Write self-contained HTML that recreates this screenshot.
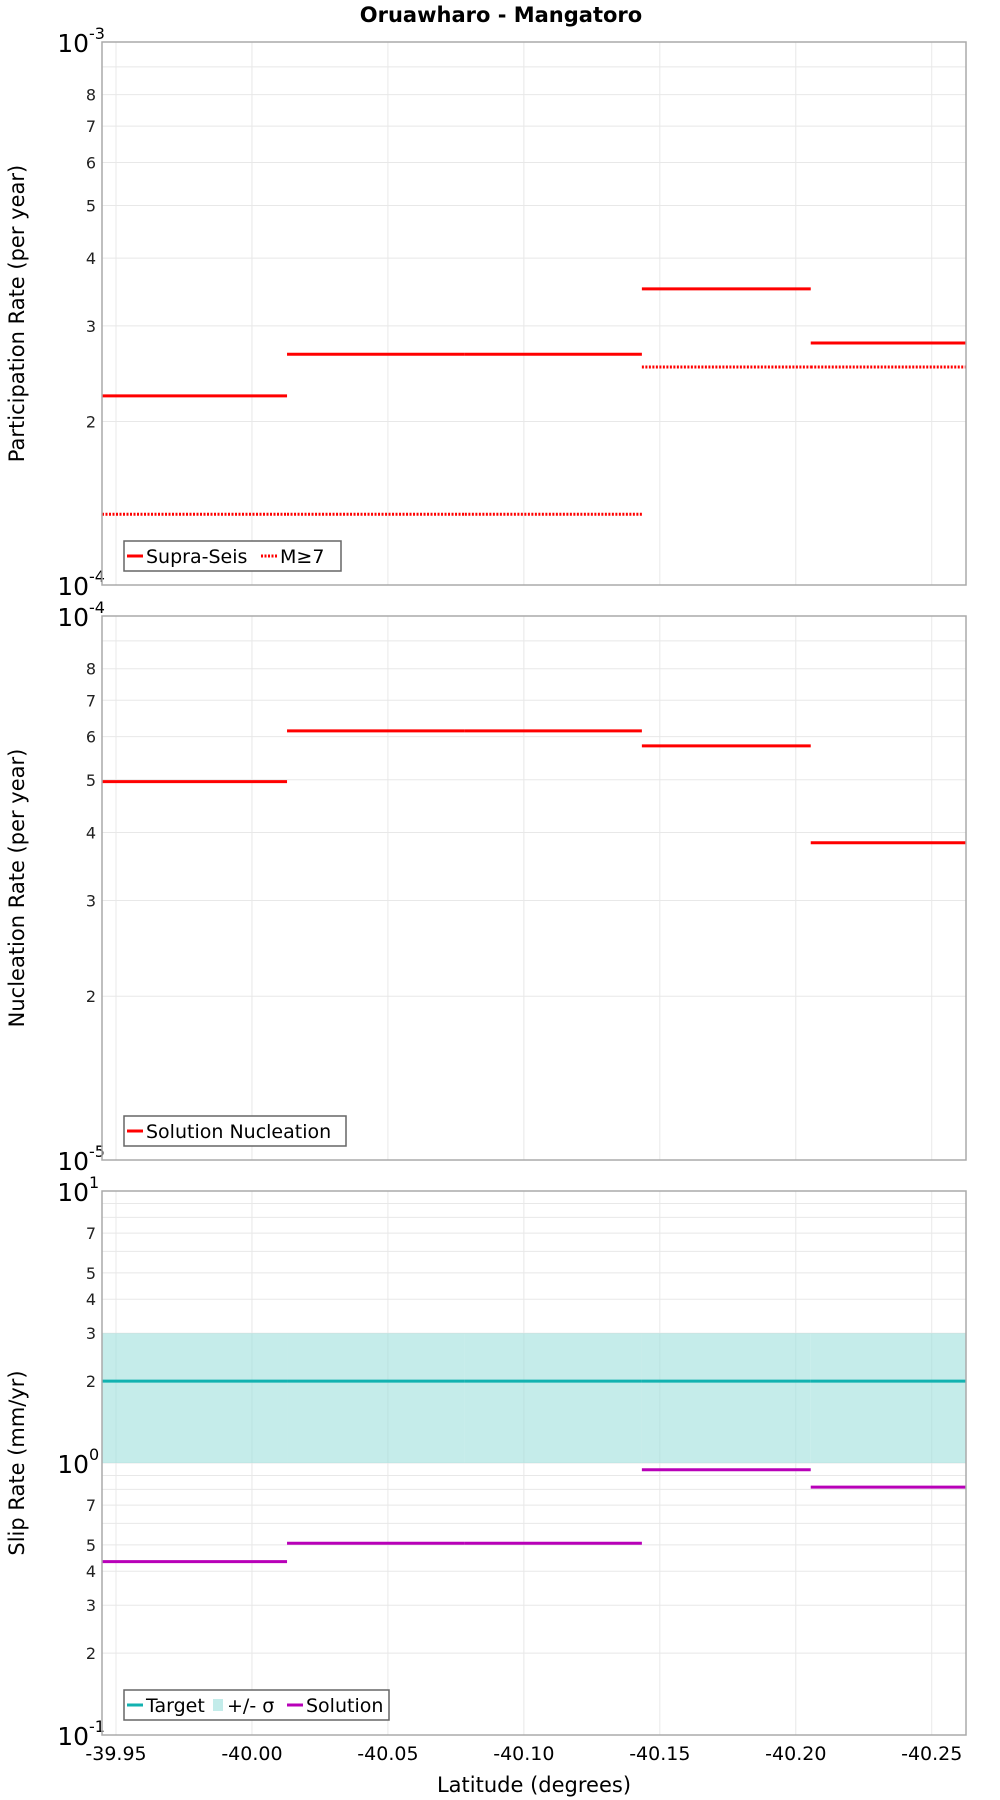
<!DOCTYPE html>
<html><head><meta charset="utf-8"><style>
html,body{margin:0;padding:0;background:#fff;}
svg{display:block;font-family:"DejaVu Sans","Liberation Sans",sans-serif;}
</style></head><body>
<svg id="chart" width="1000" height="1800" viewBox="0 0 1000 1800" xmlns="http://www.w3.org/2000/svg">
<text x="501" y="22" font-size="21" font-weight="bold" text-anchor="middle">Oruawharo - Mangatoro</text>
<text x="534" y="1792" font-size="21" text-anchor="middle">Latitude (degrees)</text>
</svg>
<script>
// data
const segBounds = [39.94485, 40.0129, 40.0783, 40.1434, 40.2055, 40.2626];
const supraSeis = [2.23e-4, 2.66e-4, 2.66e-4, 3.51e-4, 2.79e-4];
const m7 = [1.35e-4, 1.35e-4, 1.35e-4, 2.52e-4, 2.52e-4];
const nucleation = [4.96e-5, 6.15e-5, 6.15e-5, 5.77e-5, 3.83e-5];
const slipTarget = [2.0, 2.0, 2.0, 2.0, 2.0];
const slipLow = [1.0, 1.0, 1.0, 1.0, 1.0];
const slipHigh = [3.0, 3.0, 3.0, 3.0, 3.0];
const slipSolution = [0.434, 0.507, 0.507, 0.944, 0.815];
const xTicks = [39.95, 40.00, 40.05, 40.10, 40.15, 40.20, 40.25];
const xTickLabels = ["-39.95", "-40.00", "-40.05", "-40.10", "-40.15", "-40.20", "-40.25"];

const NS = "http://www.w3.org/2000/svg";
const svg = document.getElementById('chart');
const L = 102, R = 966;
const xMin = 39.94485, xMax = 40.2626;
function xs(v){ return L + (v - xMin) / (xMax - xMin) * (R - L); }
function mk(tag, attrs, parent){
  const e = document.createElementNS(NS, tag);
  for (const k in attrs) e.setAttribute(k, attrs[k]);
  (parent || svg).appendChild(e);
  return e;
}

const panels = [
  {top:42, bottom:585, lo:-4, hi:-3, minorLabels:[2,3,4,5,6,7,8], title:"Participation Rate (per year)", name:"participation"},
  {top:616, bottom:1160, lo:-5, hi:-4, minorLabels:[2,3,4,5,6,7,8], title:"Nucleation Rate (per year)", name:"nucleation"},
  {top:1191, bottom:1735, lo:-1, hi:1, minorLabels:[2,3,4,5,7], title:"Slip Rate (mm/yr)", name:"slip"}
];

panels.forEach(function(p){
  p.ys = function(v){ return p.bottom - (Math.log10(v) - p.lo) / (p.hi - p.lo) * (p.bottom - p.top); };
  const g = mk('g', {});
  
  
  mk('rect', {x:L, y:p.top, width:R-L, height:p.bottom-p.top, fill:'#fff'}, g);
  // grid
  for (let d = p.lo; d < p.hi; d++) {
    for (let m = 1; m <= 10; m++) {
      const y = p.ys(m * Math.pow(10, d));
      mk('line', {x1:L, x2:R, y1:y, y2:y, stroke:'#e8e8e8', 'stroke-width':1}, g);
    }
  }
  xTicks.forEach(function(t){
    const x = xs(t);
    mk('line', {x1:x, x2:x, y1:p.top, y2:p.bottom, stroke:'#e8e8e8', 'stroke-width':1}, g);
  });
  // y labels
  for (let d = p.lo; d <= p.hi; d++) {
    const y = p.ys(Math.pow(10, d));
    const t = mk('text', {x:89, y:y+10, 'font-size':25, 'text-anchor':'end'}, g);
    
    
    t.textContent = '10';
    const s = mk('text', {x:89, y:y-3, 'font-size':16, 'text-anchor':'start'}, g);
    s.textContent = String(d);
    if (d < p.hi) {
      p.minorLabels.forEach(function(m){
        const yy = p.ys(m * Math.pow(10, d));
        const tt = mk('text', {x:96, y:yy+6, 'font-size':16, 'text-anchor':'end', fill:'#222'}, g);
        
        
        tt.textContent = String(m);
      });
    }
  }
  const cy = (p.top + p.bottom) / 2;
  const at = mk('text', {x:0, y:0, 'font-size':21, 'text-anchor':'middle', transform:'translate(24,'+cy+') rotate(-90)'}, g);
  
  
  at.textContent = p.title;
  p.g = g;
});

function steps(p, arr, color, dash, name){
  for (let i = 0; i < arr.length; i++) {
    const y = p.ys(arr[i]);
    const ln = mk('line', {x1:xs(segBounds[i]), x2:xs(segBounds[i+1]), y1:y, y2:y, stroke:color, 'stroke-width':3}, p.g);
    if (dash) ln.setAttribute('stroke-dasharray', '2,1.5');
    
    
  }
}

// panel 1
steps(panels[0], m7, '#ff0000', true, 'm7');
steps(panels[0], supraSeis, '#ff0000', false, 'supra-seis');
// panel 2
steps(panels[1], nucleation, '#ff0000', false, 'nucleation');
// panel 3
const p3 = panels[2];
for (let i = 0; i < slipLow.length; i++) {
  const r = mk('rect', {x:xs(segBounds[i]), y:p3.ys(slipHigh[i]), width:xs(segBounds[i+1])-xs(segBounds[i]), height:p3.ys(slipLow[i])-p3.ys(slipHigh[i]), fill:'#9ee0dc', 'fill-opacity':0.6}, p3.g);
  
  
}
steps(p3, slipTarget, '#12b2b0', false, 'target');
steps(p3, slipSolution, '#b800b8', false, 'solution');

// borders
panels.forEach(function(p){
  mk('rect', {x:L, y:p.top, width:R-L, height:p.bottom-p.top, fill:'none', stroke:'#aaa', 'stroke-width':1.5}, p.g);
});

// x ticks
xTicks.forEach(function(t, i){
  const tx = mk('text', {x:xs(t), y:1760, 'font-size':19, 'text-anchor':'middle'});
  
  
  tx.textContent = xTickLabels[i];
});

// legends
function legend(x, y, w, items, name){
  const g = mk('g', {});
  
  
  mk('rect', {x:x, y:y, width:w, height:30, fill:'#fff', stroke:'#666', 'stroke-width':1.5}, g);
  let cx = x + 3;
  items.forEach(function(it){
    if (it.type === 'box') {
      mk('rect', {x:cx+3, y:y+9, width:10, height:12, fill:'#c3ecea'}, g);
      cx += 17;
    } else {
      const l = mk('line', {x1:cx, x2:cx+16, y1:y+15, y2:y+15, stroke:it.color, 'stroke-width':3}, g);
      if (it.dash) l.setAttribute('stroke-dasharray', '2,1.5');
      cx += 19;
    }
    const t = mk('text', {x:cx, y:y+22, 'font-size':19}, g);
    
    
    t.textContent = it.label;
    cx += it.w;
  });
}
legend(124, 541, 217, [{color:'#ff0000', label:'Supra-Seis', w:115},{color:'#ff0000', dash:true, label:'M≥7', w:40}], 'participation-legend');
legend(124, 1116, 222, [{color:'#ff0000', label:'Solution Nucleation', w:190}], 'nucleation-legend');
legend(124, 1690, 265, [{color:'#12b2b0', label:'Target', w:64},{type:'box', label:'+/- σ', w:60},{color:'#b800b8', label:'Solution', w:90}], 'slip-legend');
</script>
</body></html>
